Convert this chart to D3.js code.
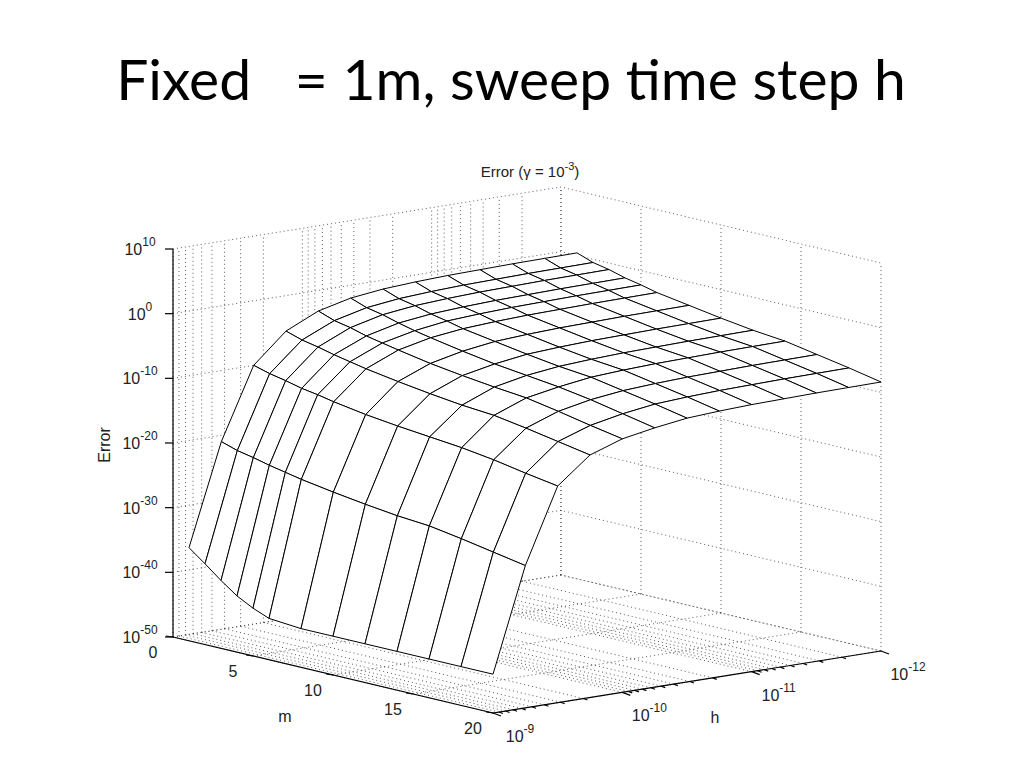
<!DOCTYPE html>
<html><head><meta charset="utf-8">
<script src="https://cdn.jsdelivr.net/npm/d3@7"></script>
<style>body{margin:0;background:#fff}</style></head>
<body><svg id="c" width="1024" height="768"></svg>
<script>
// m values (rows) and h exponents (columns), log10(Error) values
const mValues = [1,2,3,4,5,6,8,10,12,14,16,18,20];
const hExp = [-9,-9.25,-9.5,-9.75,-10,-10.25,-10.5,-10.75,-11,-11.25,-11.5,-11.75,-12];
const logErr = [
 [-35.6,-20,-9,-4.5,-2.2,-1,-0.4,-0.1,0.1,0.2,0.3,0.35,0.4],
 [-37.5,-20.8,-9.7,-5.3,-3.1,-1.9,-1.3,-1,-0.8,-0.7,-0.6,-0.55,-0.5],
 [-39.5,-21.3,-10.2,-5.8,-3.6,-2.4,-1.8,-1.5,-1.3,-1.2,-1.1,-1.05,-1],
 [-41.3,-21.9,-10.8,-6.4,-4.3,-3.1,-2.5,-2.2,-2,-1.9,-1.8,-1.75,-1.7],
 [-42.6,-22.4,-11.2,-6.9,-4.8,-3.7,-3,-2.7,-2.5,-2.4,-2.3,-2.25,-2.2],
 [-43.6,-22.9,-11.7,-7.4,-5.3,-4.2,-3.6,-3.3,-3.1,-3,-2.9,-2.85,-2.8],
 [-44,-23.7,-12.5,-8.2,-6.2,-5.1,-4.4,-4.1,-3.9,-3.8,-3.7,-3.65,-3.6],
 [-44,-24.4,-13.1,-8.9,-6.9,-5.9,-5.2,-4.9,-4.7,-4.6,-4.5,-4.45,-4.4],
 [-44,-25,-13.6,-9.5,-7.5,-6.5,-5.9,-5.6,-5.4,-5.3,-5.2,-5.15,-5.1],
 [-44,-25.4,-14.1,-9.9,-8,-7.1,-6.4,-6.1,-5.9,-5.8,-5.7,-5.65,-5.6],
 [-44,-26.2,-14.8,-10.7,-8.9,-7.9,-7.3,-7,-6.8,-6.7,-6.6,-6.55,-6.5],
 [-44,-27.1,-15.7,-11.6,-9.9,-8.9,-8.2,-7.9,-7.7,-7.6,-7.5,-7.45,-7.4],
 [-44,-28,-16.5,-12.5,-10.8,-9.9,-9.2,-8.9,-8.7,-8.6,-8.5,-8.45,-8.4]
];
const zTicks = [-50,-40,-30,-20,-10,0,10];
const mTicks = [0,5,10,15,20];
const hTicks = [-9,-10,-11,-12];

const svg = d3.select("#c");
const mx = d3.scaleLinear().domain([0,20]).range([0,320]);
const my = d3.scaleLinear().domain([0,20]).range([0,76]);
const hx = d3.scaleLinear().domain([-9,-12]).range([0,388]);
const hy = d3.scaleLinear().domain([-9,-12]).range([0,-62]);
const zs = d3.scaleLinear().domain([-50,10]).range([0,388]);
const O=[173,637];
function P(m,h,z){return [O[0]+mx(m)+hx(h), O[1]+my(m)+hy(h)-zs(z)];}
const line = d3.line();

const hAll=[];
for(let e=-12;e<-9;e++){for(let k=1;k<10;k++){hAll.push(e+Math.log10(k));}}
hAll.push(-9);

const g = svg.append("g");
const dot = {stroke:"#333","stroke-width":0.8,"stroke-dasharray":"1,3",fill:"none"};
function dl(pts,st){const p=g.append("path").attr("d",line(pts));for(const k in st)p.attr(k,st[k]);return p;}
zTicks.forEach(z=>{dl([P(0,-9,z),P(0,-12,z),P(20,-12,z)],dot);});
hAll.forEach(h=>dl([P(0,h,-50),P(0,h,10)],dot));
mTicks.forEach(m=>dl([P(m,-12,-50),P(m,-12,10)],dot));
hAll.forEach(h=>dl([P(0,h,-50),P(20,h,-50)],dot));
mTicks.forEach(m=>dl([P(m,-9,-50),P(m,-12,-50)],dot));

const quads=[];
for(let i=0;i<mValues.length-1;i++)for(let j=0;j<hExp.length-1;j++){
  const key = (mValues[i]+mValues[i+1])/40 + (1-((-9-(hExp[j]+hExp[j+1])/2)/3));
  quads.push({key,pts:[P(mValues[i],hExp[j],logErr[i][j]),P(mValues[i+1],hExp[j],logErr[i+1][j]),P(mValues[i+1],hExp[j+1],logErr[i+1][j+1]),P(mValues[i],hExp[j+1],logErr[i][j+1])]});
}
quads.sort((a,b)=>a.key-b.key);
g.selectAll("path.q").data(quads).join("path").attr("class","q")
 .attr("d",d=>line(d.pts)+"Z").attr("fill","#fff").attr("stroke","#000").attr("stroke-width",1);

const ax={stroke:"#000","stroke-width":1.2,fill:"none"};
dl([P(0,-9,-50),P(0,-9,10)],ax);
dl([P(0,-9,-50),P(20,-9,-50)],ax);
dl([P(20,-9,-50),P(20,-12,-50)],ax);
const txt={"font-family":"Liberation Sans, Arial, sans-serif","font-size":16,fill:"#222"};
function T(x,y,s,anchor){const t=svg.append("text").attr("x",x).attr("y",y).attr("text-anchor",anchor||"middle");for(const k in txt)t.attr(k,txt[k]);return t;}
function pow10(x,y,e,anchor){const t=T(x,y,"",anchor);t.append("tspan").text("10");t.append("tspan").attr("dy",-9).attr("font-size",12).text(e);return t;}
zTicks.forEach(z=>{const p=P(0,-9,z);dl([p,[p[0]-8,p[1]]],ax);pow10(p[0]-33,p[1]+6,z,"middle");});
mTicks.forEach(m=>{const p=P(m,-9,-50);dl([p,[p[0]-7,p[1]-1]],ax);T(p[0]-20,p[1]+21).text(m);});
hAll.forEach(h=>{const p=P(20,h,-50);const maj=Math.abs(h-Math.round(h))<1e-9;dl([p,[p[0]+(maj?8:4),p[1]+(maj?3:1.5)]],ax);});
hTicks.forEach(h=>{const p=P(20,h,-50);pow10(p[0]+27,p[1]+29,h,"middle");});
T(285,722).text("m");
T(715,723).text("h");
T(110,445).attr("transform","rotate(-90,110,445)").text("Error");
const tt=T(530,177);tt.attr("font-size",15);tt.append("tspan").text("Error (γ = 10");tt.append("tspan").attr("dy",-7).attr("font-size",11).text("-3");tt.append("tspan").attr("dy",7).text(")");
svg.append("text").attr("x",511).attr("y",100).attr("text-anchor","middle")
 .attr("font-family","Lato, Carlito, sans-serif").attr("font-size",57).attr("fill","#000")
 .attr("xml:space","preserve").style("white-space","pre").text("Fixed   = 1m, sweep time step h");
</script></body></html>
